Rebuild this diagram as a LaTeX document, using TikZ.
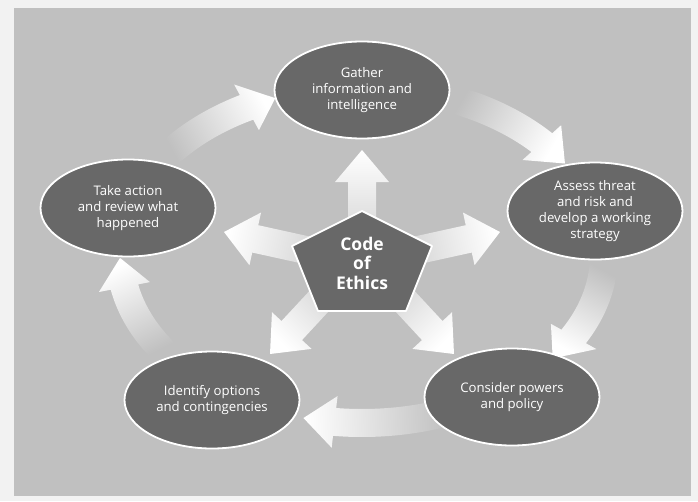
\documentclass[tikz,border=0pt]{standalone}
\usepackage{fontspec}
\setmainfont{Open Sans}
\usetikzlibrary{shapes.geometric,calc}
\definecolor{bgc}{HTML}{C0C0C0}
\definecolor{outerc}{HTML}{F2F2F2}
\definecolor{ellc}{HTML}{686868}
\tikzset{
  stage/.style={ellipse, fill=ellc, draw=white, line width=1.8pt,
    minimum width=175pt, minimum height=97pt, inner sep=0pt,
    text=white, align=center, font=\fontsize{13.2}{16}\selectfont},
  centretext/.style={text=white, align=center, inner sep=0pt,
    font=\bfseries\fontsize{17.5}{19.5}\selectfont},
  pentagonstyle/.style={fill=ellc, draw=white, line width=1.8pt, line join=round},
}
\def\cx{362}\def\cy{255}\def\rx{242}\def\ry{168}
% curved cycle arrow: #1 tail angle, #2 head base angle, #3 tip angle, #4 shading angle
\newcommand\cycarrow[4]{%
  \shade[top color=white, bottom color=bgc, shading angle=#4]
    plot[domain=#1:#2, samples=24] ({\cx+(\rx+14)*cos(\x)},{\cy-(\ry+14)*sin(\x)})
    -- ({\cx+(\rx+26)*cos(#2)},{\cy-(\ry+26)*sin(#2)})
    -- ({\cx+\rx*cos(#3)},{\cy-\ry*sin(#3)})
    -- ({\cx+(\rx-26)*cos(#2)},{\cy-(\ry-26)*sin(#2)})
    -- plot[domain=#2:#1, samples=24] ({\cx+(\rx-14)*cos(\x)},{\cy-(\ry-14)*sin(\x)})
    -- cycle;}
% straight radial arrow: #1 tail coordinate, #2 tip coordinate, #3 shading angle
\newcommand\radarrow[3]{%
  \path ($(#2)!32pt!(#1)$) coordinate (hb);
  \shade[top color=white, bottom color=white!30!bgc, shading angle=#3]
    ($(#1)!14pt!90:(#2)$) -- ($(hb)!14pt!90:(#2)$) -- ($(hb)!27pt!90:(#2)$)
    -- (#2) -- ($(hb)!27pt!-90:(#2)$) -- ($(hb)!14pt!-90:(#2)$)
    -- ($(#1)!14pt!-90:(#2)$) -- cycle;}
\begin{document}
\begin{tikzpicture}[x=1pt,y=-1pt]
  \useasboundingbox (0,0) rectangle (698,501);
  \fill[outerc] (0,0) rectangle (698,501);
  \fill[bgc] (14,8) rectangle (691,496);

  % cycle arrows
  \cycarrow{143}{118.5}{111}{-62}
  \cycarrow{68}{42}{33}{-120}
  \cycarrow{-2}{-29}{-38}{152}
  \cycarrow{-70}{-96.5}{-104}{92}
  \cycarrow{215}{191}{181}{26}

  % radial arrows
  \coordinate (upS) at (362,245);  \coordinate (upT) at (362,150);
  \coordinate (rtS) at (400,254);  \coordinate (rtT) at (500,232);
  \coordinate (ltS) at (324,254);  \coordinate (ltT) at (224,232);
  \coordinate (lrS) at (390,285);  \coordinate (lrT) at (454,354);
  \coordinate (llS) at (334,285);  \coordinate (llT) at (270,354);
  \radarrow{upS}{upT}{0}
  \radarrow{rtS}{rtT}{-78}
  \radarrow{ltS}{ltT}{78}
  \radarrow{lrS}{lrT}{-135}
  \radarrow{llS}{llT}{135}

  % stages
  \node[stage] (gather) at (362,90) {Gather\\information and\\intelligence};
  \node[stage] (assess) at (595,211) {Assess threat\\and risk and\\develop a working\\strategy};
  \node[stage] (consider) at (512,397) {Consider powers\\and policy};
  \node[stage] (identify) at (212,400) {Identify options\\and contingencies};
  \node[stage] (take) at (128,208) {Take action\\and review what\\happened};

  % centre pentagon
  \draw[pentagonstyle] (362,211) -- (432,246) -- (406,311) -- (318,311) -- (292,246) -- cycle;
  \node[centretext] (ethics) at (362,263) {Code\\of\\Ethics};
\end{tikzpicture}
\end{document}
